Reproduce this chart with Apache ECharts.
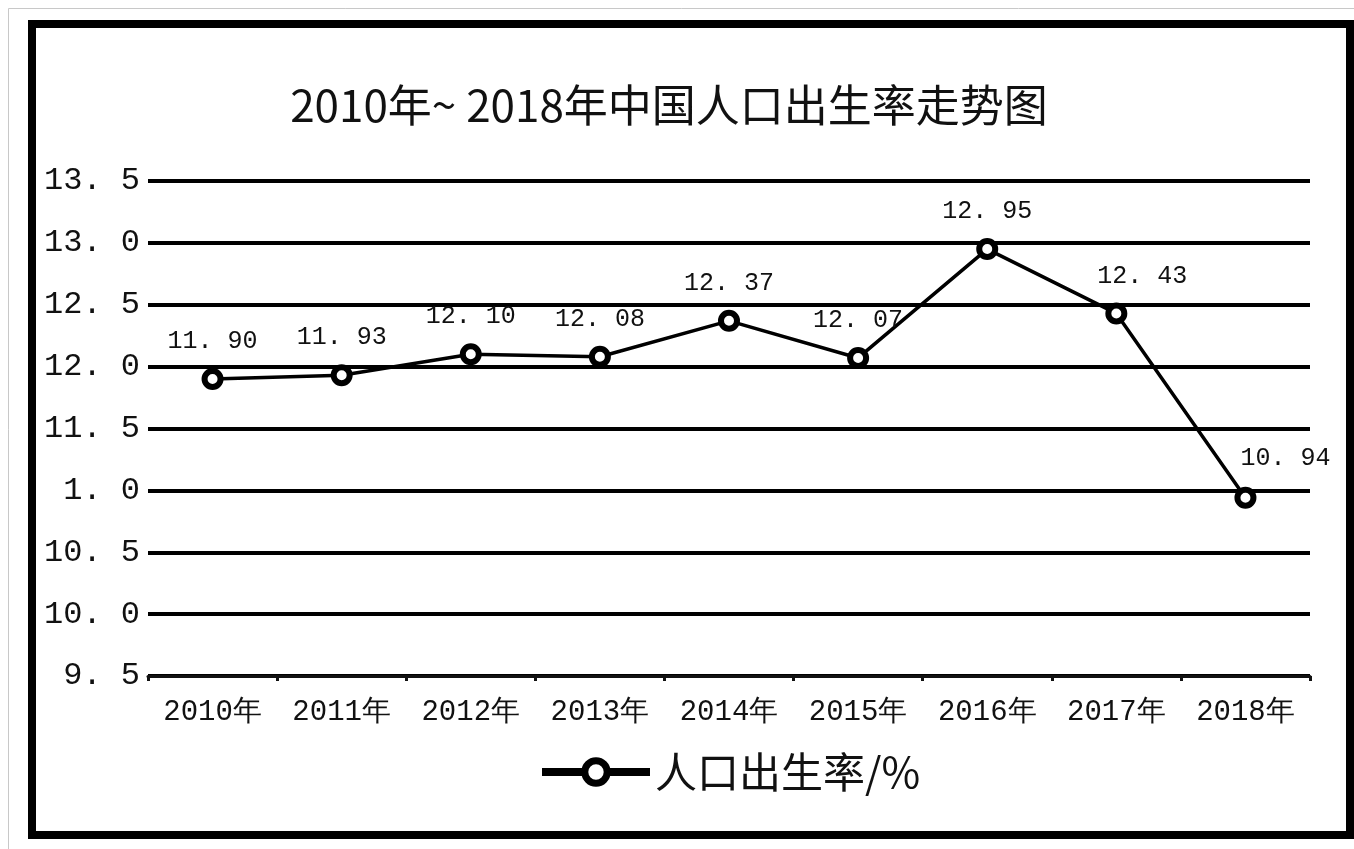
<!DOCTYPE html>
<html>
<head>
<meta charset="utf-8">
<title>2010年~2018年中国人口出生率走势图</title>
<script src="https://cdn.jsdelivr.net/npm/echarts@6/dist/echarts.min.js"></script>
<style>
  html, body { margin: 0; padding: 0; background: #fff; }
  #chart { width: 1354px; height: 849px; }
</style>
</head>
<body>
<div id="chart"></div>
<script>
// 年份
const years = ['2010年', '2011年', '2012年', '2013年', '2014年', '2015年', '2016年', '2017年', '2018年'];
// 人口出生率 (%)
const birthRate = [11.90, 11.93, 12.10, 12.08, 12.37, 12.07, 12.95, 12.43, 10.94];
// y 轴刻度文字（原图 11.0 印成了 1.0）
const yTickValues = [9.5, 10.0, 10.5, 11.0, 11.5, 12.0, 12.5, 13.0, 13.5];
const yTickLabels = ['9. 5', '10. 0', '10. 5', '1. 0', '11. 5', '12. 0', '12. 5', '13. 0', '13. 5'];

const chart = echarts.init(document.getElementById('chart'));

const monoFont = '"Liberation Mono", "DejaVu Sans Mono", monospace';
const cjkFont = '"Noto Sans CJK SC", "Noto Sans", sans-serif';

// 最后两个点的标签往右挪一点，免得压在线上
const labelShift = { 7: [26, 0], 8: [40, -2] };
const seriesData = birthRate.map(function (v, i) {
    if (!labelShift[i]) return v;
    return { value: v, label: { offset: labelShift[i] } };
});

const options = {
    backgroundColor: '#fff',
    animation: false,
    title: {
        text: '2010年~ 2018年中国人口出生率走势图',
        left: 664,
        textAlign: 'center',
        top: 78,
        textStyle: { fontFamily: cjkFont, fontSize: 44, fontWeight: 'normal', color: '#111' }
    },
    // 外框
    graphic: [
        {
            type: 'rect',
            shape: { x: 8.5, y: 8.5, width: 1360, height: 860 },
            style: { fill: 'none', stroke: '#c8c8c8', lineWidth: 1 },
            silent: true
        },
        {
            type: 'rect',
            shape: { x: 32, y: 24, width: 1318, height: 811 },
            style: { fill: 'none', stroke: '#000', lineWidth: 8 },
            silent: true
        }
    ],
    legend: {
        left: 533,
        top: 746,
        itemWidth: 108,
        itemHeight: 28,
        itemGap: 6,
        lineStyle: { width: 8, color: '#000' },
        itemStyle: { color: '#fff', borderColor: '#000', borderWidth: 7 },
        textStyle: { fontFamily: cjkFont, fontSize: 42, color: '#111' },
        data: ['人口出生率/%']
    },
    grid: { left: 148, right: 44, top: 181, bottom: 173 },
    xAxis: {
        type: 'category',
        data: years,
        boundaryGap: true,
        axisLine: { lineStyle: { color: '#111', width: 3 } },
        axisTick: { show: true, length: 5, lineStyle: { color: '#111', width: 3 } },
        axisLabel: { fontFamily: monoFont, fontSize: 29, color: '#111', margin: 22 }
    },
    yAxis: {
        type: 'value',
        min: 9.5,
        max: 13.5,
        interval: 0.5,
        axisLine: { show: false },
        axisTick: { show: false },
        splitLine: { lineStyle: { color: '#000', width: 4 } },
        axisLabel: {
            fontFamily: monoFont,
            fontSize: 32,
            color: '#111',
            margin: 8,
            formatter: function (v) {
                const i = yTickValues.findIndex(t => Math.abs(t - v) < 1e-6);
                return i >= 0 ? yTickLabels[i] : '';
            }
        }
    },
    series: [
        {
            name: '人口出生率/%',
            type: 'line',
            data: seriesData,
            symbol: 'circle',
            symbolSize: 16,
            lineStyle: { color: '#000', width: 3.5 },
            itemStyle: { color: '#fff', borderColor: '#000', borderWidth: 6 },
            label: {
                show: true,
                position: 'top',
                distance: 14,
                fontFamily: monoFont,
                fontSize: 25,
                color: '#111',
                formatter: function (p) { return p.value.toFixed(2).replace('.', '. '); }
            }
        }
    ]
};

chart.setOption(options);
</script>
</body>
</html>
